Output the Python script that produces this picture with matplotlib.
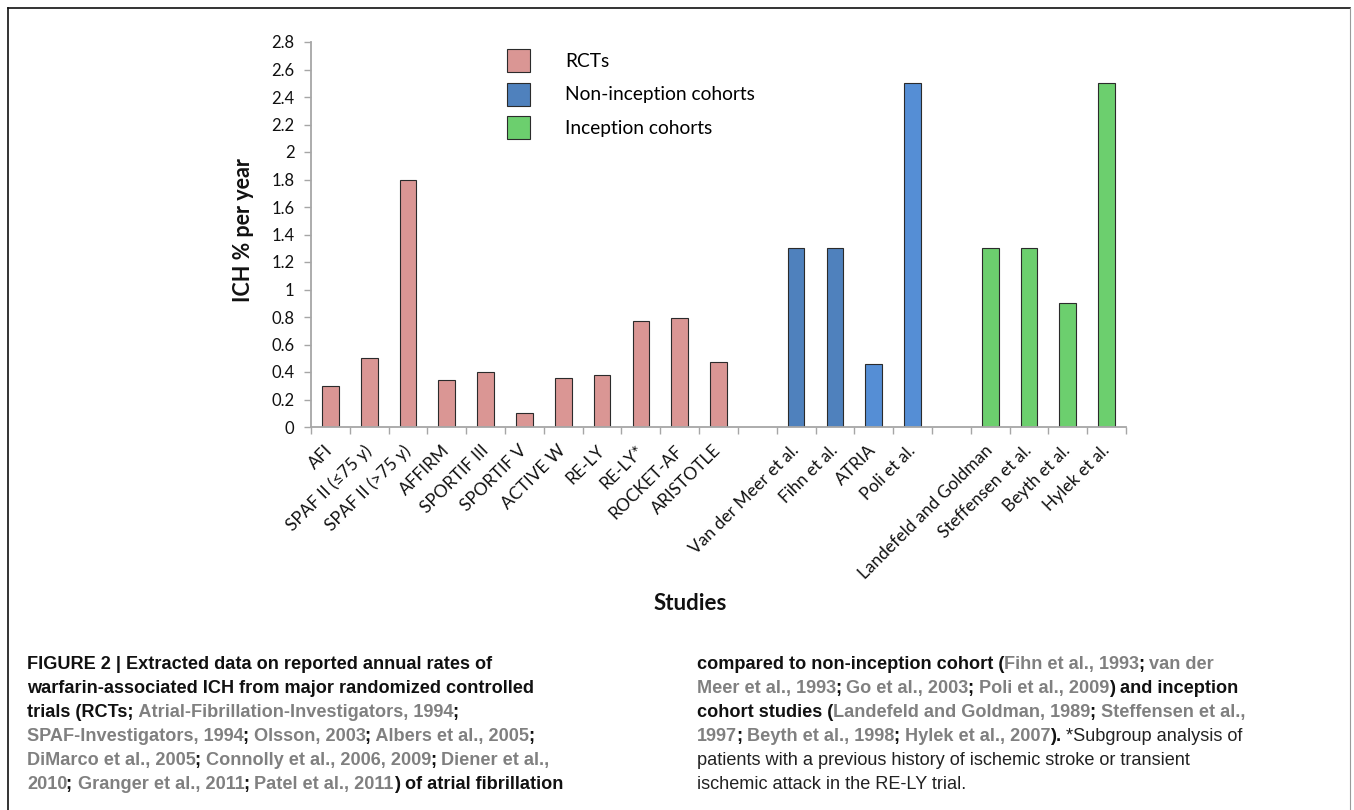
import numpy as np
import matplotlib
matplotlib.use('Agg')
from matplotlib import pyplot as plt
from matplotlib.lines import Line2D
from matplotlib.ticker import FormatStrFormatter

# --- data ---
rct_names = ['AFI', 'SPAF II (\u226475 y)', 'SPAF II (>75 y)', 'AFFIRM', 'SPORTIF III',
             'SPORTIF V', 'ACTIVE W', 'RE-LY', 'RE-LY*', 'ROCKET-AF', 'ARISTOTLE']
rct_values = [0.30, 0.50, 1.80, 0.34, 0.40, 0.10, 0.36, 0.38, 0.77, 0.79, 0.47]

noninc_names = ['Van der Meer et al.', 'Fihn et al.', 'ATRIA', 'Poli et al.']
noninc_values = [1.30, 1.30, 0.46, 2.50]

inc_names = ['Landefeld and Goldman', 'Steffensen et al.', 'Beyth et al.', 'Hylek et al.']
inc_values = [1.30, 1.30, 0.90, 2.50]

group_labels = ['RCTs', 'Non-inception cohorts', 'Inception cohorts']

# colours
pink = '#DA9694'
blue_dark = '#4F81BD'
blue_light = '#558ED5'
green = '#6CCF6E'
noninc_colors = [blue_dark, blue_dark, blue_light, blue_light]

W, H = 1354, 810
chart_font = ['Lato', 'DejaVu Sans']
cap_font = ['Liberation Sans', 'DejaVu Sans']

fig = plt.figure(figsize=(W / 100, H / 100), dpi=100)

# frame lines around the panel
ink = '#111111'
fig.add_artist(Line2D([8 / W, 1350 / W], [1 - 8 / H, 1 - 8 / H], color=ink, lw=1.2))
fig.add_artist(Line2D([8 / W, 8 / W], [0, 1 - 8 / H], color=ink, lw=1.2))
fig.add_artist(Line2D([1350 / W, 1350 / W], [0, 1 - 8 / H], color='#9a9a9a', lw=0.8))

ax = fig.add_axes([311 / W, 1 - 427 / H, 815 / W, 385 / H])

# positions with one empty slot between the groups
pos_rct = np.arange(len(rct_names))
pos_non = pos_rct[-1] + 2 + np.arange(len(noninc_names))
pos_inc = pos_non[-1] + 2 + np.arange(len(inc_names))
n_slots = pos_inc[-1] + 1

bw = 0.43
edge = '#2b2b2b'
b1 = ax.bar(pos_rct, rct_values, bw, color=pink, edgecolor=edge, lw=0.8, label=group_labels[0])
b2 = ax.bar(pos_non, noninc_values, bw, color=noninc_colors, edgecolor=edge, lw=0.8,
            label=group_labels[1])
b3 = ax.bar(pos_inc, inc_values, bw, color=green, edgecolor=edge, lw=0.8, label=group_labels[2])

ax.set_xlim(-0.5, n_slots - 0.5)
ax.set_ylim(0, 2.8)
ax.set_yticks(np.arange(0, 2.81, 0.2))
ax.yaxis.set_major_formatter(FormatStrFormatter('%g'))

for s in ['top', 'right']:
    ax.spines[s].set_visible(False)
for s in ['left', 'bottom']:
    ax.spines[s].set_color('#a6a6a6')
    ax.spines[s].set_linewidth(1.3)

ax.tick_params(axis='y', direction='out', length=5, width=1, color='#a6a6a6',
               pad=7, labelsize=12, labelcolor=ink)
for lab in ax.get_yticklabels():
    lab.set_family(chart_font)

# category labels at bar centres, tick marks between the slots
ax.set_xticks(list(pos_rct) + list(pos_non) + list(pos_inc))
ax.set_xticklabels(rct_names + noninc_names + inc_names, rotation=45, ha='right',
                   va='center', rotation_mode='anchor', family=chart_font,
                   fontsize=12.5, color=ink)
ax.tick_params(axis='x', which='major', length=0, pad=15)
ax.set_xticks(np.arange(-0.5, n_slots, 1.0), minor=True)
ax.tick_params(axis='x', which='minor', direction='out', length=5, width=1, color='#a6a6a6')

fig.text(243 / W, 1 - 230 / H, 'ICH % per year', rotation=90, ha='center', va='center',
         family=chart_font, fontweight='bold', fontsize=15.5, color=ink)
fig.text(690 / W, 1 - 603 / H, 'Studies', ha='center', va='center',
         family=chart_font, fontweight='bold', fontsize=16, color=ink)

leg_handles = [b1.patches[0], b2.patches[0], b3.patches[0]]
ax.legend(leg_handles, group_labels, loc='upper left',
          bbox_to_anchor=(507 / W, 1 - 49 / H), bbox_transform=fig.transFigure,
          frameon=False, borderpad=0, borderaxespad=0, handlelength=1.2,
          handleheight=1.47, handletextpad=1.85, labelspacing=0.55,
          prop={'family': chart_font, 'size': 13.8})

# --- caption, drawn piece by piece so colours can change inside a line ---
black_b = dict(color=ink, fontweight='bold')
grey_b = dict(color='#808080', fontweight='bold')
plain = dict(color='#222222', fontweight='normal')

left_lines = [
    [('FIGURE 2 | Extracted data on reported annual rates of', black_b)],
    [('warfarin-associated ICH from major randomized controlled', black_b)],
    [('trials (RCTs;', black_b), (' Atrial-Fibrillation-Investigators, 1994', grey_b), (';', black_b)],
    [('SPAF-Investigators, 1994', grey_b), ('; ', black_b), ('Olsson, 2003', grey_b), (';', black_b),
     (' Albers et al., 2005', grey_b), (';', black_b)],
    [('DiMarco et al., 2005', grey_b), ('; ', black_b), ('Connolly et al., 2006, 2009', grey_b),
     (';', black_b), (' Diener et al.,', grey_b)],
    [('2010', grey_b), ('; ', black_b), ('Granger et al., 2011', grey_b), (';', black_b),
     (' Patel et al., 2011', grey_b), (') of atrial fibrillation', black_b)],
]
right_lines = [
    [('compared to non-inception cohort (', black_b), ('Fihn et al., 1993', grey_b), (';', black_b),
     (' van der', grey_b)],
    [('Meer et al., 1993', grey_b), (';', black_b), (' Go et al., 2003', grey_b), (';', black_b),
     (' Poli et al., 2009', grey_b), (') and inception', black_b)],
    [('cohort studies (', black_b), ('Landefeld and Goldman, 1989', grey_b), (';', black_b),
     (' Steffensen et al.,', grey_b)],
    [('1997', grey_b), (';', black_b), (' Beyth et al., 1998', grey_b), (';', black_b),
     (' Hylek et al., 2007', grey_b), (').', black_b), (' *Subgroup analysis of', plain)],
    [('patients with a previous history of ischemic stroke or transient', plain)],
    [('ischemic attack in the RE-LY trial.', plain)],
]
baselines = [669, 693, 717, 741, 765, 789]
cap_size = 13.1


def draw_line(x_px, y_px, pieces):
    prev = None
    for txt, style in pieces:
        if prev is None:
            prev = fig.text(x_px / W, 1 - y_px / H, txt, ha='left', va='bottom',
                            family=cap_font, fontsize=cap_size, **style)
        else:
            # semicolons sit a little too far off the preceding text otherwise
            shift = -1 if txt.startswith(';') else 0
            prev = fig.add_artist(plt.Annotation(txt, xy=(1, 0), xycoords=prev,
                                                 xytext=(shift, 0), textcoords='offset pixels',
                                                 ha='left', va='bottom', family=cap_font,
                                                 fontsize=cap_size, **style))


for y, line in zip(baselines, left_lines):
    draw_line(27, y + 4, line)
for y, line in zip(baselines, right_lines):
    draw_line(697, y + 4, line)

fig.savefig('out.png', dpi=100)
